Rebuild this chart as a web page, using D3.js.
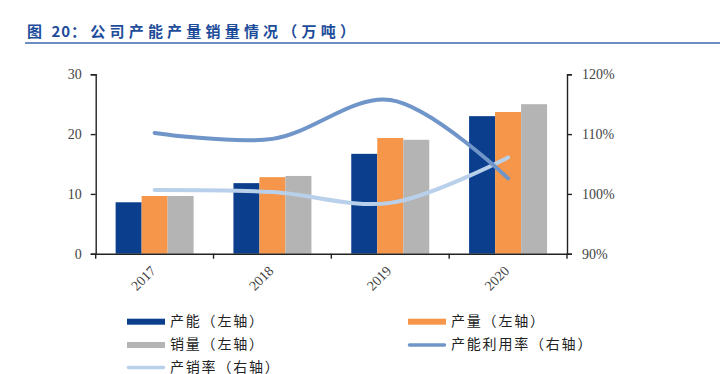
<!DOCTYPE html>
<html><head><meta charset="utf-8">
<script src="https://cdn.jsdelivr.net/npm/d3@7"></script>
<style>html,body{margin:0;padding:0;background:#fff;}svg{display:block;}</style>
</head><body>
<svg id="c" width="720" height="374"></svg>
<script>
const categories = ["2017", "2018", "2019", "2020"];
const capacity = [8.6, 11.8, 16.7, 23.0];
const output = [9.65, 12.8, 19.35, 23.7];
const sales = [9.65, 13.0, 19.05, 25.0];
const utilization = [110.2, 109.2, 115.7, 102.6];
const salesRate = [100.65, 100.3, 98.5, 106.1];
const leftTicks = [0, 10, 20, 30];
const rightTicks = [90, 100, 110, 120];
const titleParts = ["图 ", "20", "：公司产能产量销量情况（万吨）"];
const seriesNames = ["产能（左轴）", "产量（左轴）", "销量（左轴）", "产能利用率（右轴）", "产销率（右轴）"];
const colors = {cap: "#0b3f8e", out: "#f5964a", sal: "#b4b4b4", util: "#6f95c9", rate: "#b9d0ea"};

const svg = d3.select("#c");
const L = 95.7, R = 567, T = 74.3, B = 253.7;

const tt = svg.append("text").attr("x", 27).attr("y", 36.5)
  .attr("font-family", "Noto Sans CJK SC").attr("font-size", 15).attr("font-weight", "bold")
  .attr("fill", "#1d4c9a");
tt.append("tspan").attr("letter-spacing", 3).text(titleParts[0]);
tt.append("tspan").attr("letter-spacing", 1).text(titleParts[1]);
tt.append("tspan").attr("letter-spacing", 4.2).text(titleParts[2]);
svg.append("line").attr("x1", 25).attr("x2", 720).attr("y1", 43).attr("y2", 43)
  .attr("stroke", "#3d66ae").attr("stroke-width", 1.6);

const x = d3.scaleBand().domain(categories).range([L, R]).paddingInner(0).paddingOuter(0);
const yL = d3.scaleLinear().domain([0, 30]).range([B, T]);
const yR = d3.scaleLinear().domain([90, 120]).range([B, T]);

const groupW = 78, barW = groupW / 3;
const series = [capacity, output, sales];
const sc = [colors.cap, colors.out, colors.sal];
series.forEach((arr, i) => {
  svg.append("g").selectAll("rect").data(arr).join("rect")
    .attr("x", (d, j) => x(categories[j]) + (x.bandwidth() - groupW) / 2 + i * barW)
    .attr("width", barW)
    .attr("y", d => yL(d))
    .attr("height", d => B - yL(d))
    .attr("fill", sc[i]);
});

const serif = "Liberation Serif";
const gl = svg.append("g").attr("transform", `translate(${L},0)`)
  .call(d3.axisLeft(yL).tickValues(leftTicks).tickSize(5).tickPadding(9));
const gr = svg.append("g").attr("transform", `translate(${R},0)`)
  .call(d3.axisRight(yR).tickValues(rightTicks).tickSize(5).tickPadding(10).tickFormat(d => d + "%"));
const gx = svg.append("g").attr("transform", `translate(0,${B})`)
  .call(d3.axisBottom(x).tickSize(0).tickFormat(""));
[gl, gr].forEach(g => {
  g.select(".domain").attr("stroke", "#222").attr("stroke-width", 1.4);
  g.selectAll(".tick line").attr("stroke", "#222").attr("stroke-width", 1.4);
  g.selectAll(".tick text").attr("font-family", serif).attr("font-size", 14).attr("fill", "#444");
});
gx.select(".domain").attr("stroke", "#222").attr("stroke-width", 1.4);
const bounds = categories.map(c => x(c)).concat([R]);
svg.append("g").selectAll("line").data(bounds).join("line")
  .attr("x1", d => d).attr("x2", d => d).attr("y1", B).attr("y2", B + 5)
  .attr("stroke", "#222").attr("stroke-width", 1.4);
svg.append("g").selectAll("text").data(categories).join("text")
  .attr("transform", d => `translate(${x(d) + x.bandwidth() / 2 + 2},${B + 18}) rotate(-45)`)
  .attr("text-anchor", "end")
  .attr("font-family", serif).attr("font-size", 14).attr("fill", "#444").text(d => d);

const cx = (d, i) => x(categories[i]) + x.bandwidth() / 2;
const lineU = d3.line().x(cx).y(d => yR(d)).curve(d3.curveCatmullRom.alpha(0.5));
svg.append("path").datum(salesRate).attr("d", lineU).attr("fill", "none")
  .attr("stroke", colors.rate).attr("stroke-width", 4).attr("stroke-linecap", "round");
svg.append("path").datum(utilization).attr("d", lineU).attr("fill", "none")
  .attr("stroke", colors.util).attr("stroke-width", 4).attr("stroke-linecap", "round");

const legend = [
  {name: seriesNames[0], color: colors.cap, type: "rect", x: 127, y: 321.7},
  {name: seriesNames[1], color: colors.out, type: "rect", x: 408, y: 321.7},
  {name: seriesNames[2], color: colors.sal, type: "rect", x: 127, y: 345},
  {name: seriesNames[3], color: colors.util, type: "line", x: 408, y: 345},
  {name: seriesNames[4], color: colors.rate, type: "line", x: 127, y: 367.5}
];
const lg = svg.append("g").selectAll("g").data(legend).join("g");
lg.filter(d => d.type === "rect").append("rect")
  .attr("x", d => d.x).attr("y", d => d.y - 3).attr("width", 38).attr("height", 6).attr("fill", d => d.color);
lg.filter(d => d.type === "line").append("line")
  .attr("x1", d => d.x + 1.5).attr("x2", d => d.x + 36.5).attr("y1", d => d.y).attr("y2", d => d.y)
  .attr("stroke", d => d.color).attr("stroke-width", 3.5).attr("stroke-linecap", "round");
lg.append("text").attr("x", d => d.x + 43).attr("y", d => d.y + 4)
  .attr("font-family", "Noto Sans CJK SC").attr("font-size", 14).attr("letter-spacing", 1.8)
  .attr("fill", "#222").text(d => d.name);
</script>
</body></html>
